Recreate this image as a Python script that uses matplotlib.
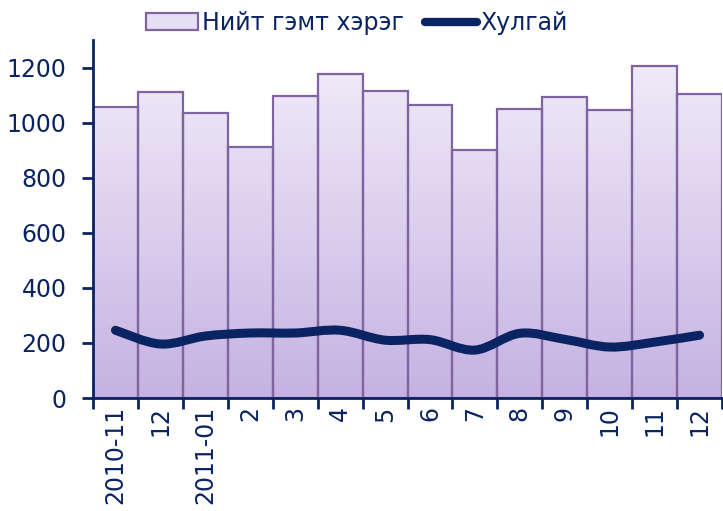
import numpy as np
import matplotlib.pyplot as plt
from matplotlib.patches import Rectangle, PathPatch
from matplotlib.path import Path
from matplotlib.lines import Line2D
from matplotlib.colors import LinearSegmentedColormap

# Monthly totals and thefts
months = ["2010-11", "12", "2011-01", "2", "3", "4", "5", "6", "7", "8", "9", "10", "11", "12"]
total_crimes = [1058, 1112, 1036, 913, 1098, 1178, 1116, 1065, 902, 1051, 1094, 1047, 1207, 1105]
thefts = [246, 196, 225, 236, 236, 246, 210, 212, 174, 235, 213, 185, 203, 228]

navy = "#0a2463"
edge = "#8064a2"

fig = plt.figure(figsize=(7.23, 5.11), dpi=100)
ax = fig.add_axes([93 / 723, 113 / 511, 629 / 723, 358 / 511])

x = np.arange(len(months))
ymax = 1300
ax.set_xlim(-0.5, len(months) - 0.5)
ax.set_ylim(0, ymax)

# vertical gradient, light at the top and lavender at the bottom
grad = np.linspace(0, 1, 256).reshape(-1, 1)
cmap = LinearSegmentedColormap.from_list("lav", ["#c5b2e2", "#f3effa"])

bars = ax.bar(x, total_crimes, width=1.0, facecolor="none", edgecolor=edge,
              linewidth=1.6, zorder=3)
for b in bars:
    img = ax.imshow(grad, cmap=cmap, origin="lower", aspect="auto",
                    extent=(-0.5, len(months) - 0.5, 0, ymax), zorder=2)
    clip = Rectangle((b.get_x(), 0), b.get_width(), b.get_height(), transform=ax.transData)
    img.set_clip_path(clip)

# smoothed line through the monthly points (Catmull-Rom style Bezier)
pts = np.column_stack([x, thefts]).astype(float)
verts = [pts[0]]
codes = [Path.MOVETO]
for i in range(len(pts) - 1):
    p0 = pts[i - 1] if i > 0 else pts[i]
    p1 = pts[i]
    p2 = pts[i + 1]
    p3 = pts[i + 2] if i + 2 < len(pts) else pts[i + 1]
    c1 = p1 + (p2 - p0) / 6
    c2 = p2 - (p3 - p1) / 6
    verts += [c1, c2, p2]
    codes += [Path.CURVE4] * 3
ax.add_patch(PathPatch(Path(verts, codes), facecolor="none", edgecolor=navy,
                       linewidth=6.5, capstyle="round", joinstyle="round", zorder=4))

ax.set_yticks(range(0, 1201, 200))
ax.set_xticks(np.arange(-0.5, len(months), 1.0))
ax.set_xticklabels([])
ax.set_xticks(x, minor=True)
ax.set_xticklabels(months, minor=True, rotation=90)
ax.tick_params(axis="x", which="minor", length=0, pad=6)
ax.tick_params(axis="x", which="major", length=8, width=2, color=navy, direction="out")
ax.tick_params(axis="y", length=8, width=2, color=navy, direction="out", pad=11)
for lab in ax.get_xticklabels(minor=True) + ax.get_yticklabels():
    lab.set_fontsize(17)
    lab.set_color(navy)

for s in ["top", "right"]:
    ax.spines[s].set_visible(False)
for s in ["left", "bottom"]:
    ax.spines[s].set_color(navy)
    ax.spines[s].set_linewidth(2)
    ax.spines[s].set_zorder(5)

handles = [
    Rectangle((0, 0), 1, 1, facecolor="#e6dff3", edgecolor=edge, linewidth=1.6),
    Line2D([0], [0], color=navy, linewidth=6, solid_capstyle="round"),
]
leg = fig.legend(handles, ["Нийт гэмт хэрэг", "Хулгай"], loc="center",
                 bbox_to_anchor=(357 / 723, 1 - 23 / 511), ncol=2, frameon=False,
                 fontsize=17, handlelength=2.2, handleheight=0.7,
                 handletextpad=0.15, columnspacing=0.9)
for t in leg.get_texts():
    t.set_color(navy)

fig.savefig("out.png", dpi=100)
